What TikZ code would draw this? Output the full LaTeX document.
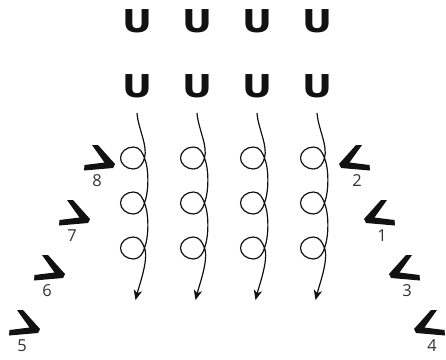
\documentclass[tikz,border=0pt]{standalone}
\usepackage{fontspec}
\usepackage{graphicx}
\setmainfont{Open Sans}
\newfontfamily\ufont{DejaVu Sans}
\usetikzlibrary{arrows.meta}
\definecolor{ink}{HTML}{111111}
\definecolor{numgray}{HTML}{333333}
\tikzset{
  ulet/.style={inner sep=0pt, anchor=base, text=ink, font=\ufont\bfseries\fontsize{31.5}{31.5}\selectfont},
  numlab/.style={inner sep=0pt, text=numgray, font=\fontsize{16.5}{16.5}\selectfont},
  spiral/.style={draw=ink, line width=1.2pt, -{Stealth[length=10pt,width=8.5pt,inset=3pt]}},
  chevshape/.pic={\fill[ink] (8,0) -- (14,0) -- (31,19) -- (29,23) -- (0,25.5) -- (0.5,20) -- (20.5,17.5) -- cycle;}
}
\begin{document}
\begin{tikzpicture}[x=1pt,y=-1pt]
\useasboundingbox (0,0) rectangle (446,359);
% U letters
\foreach \x [count=\i] in {137,197,257,317}{
  \node[ulet] (ua\i) at (\x,32) {\scalebox{1.17}[1]{U}};
  \node[ulet] (ub\i) at (\x,97) {\scalebox{1.17}[1]{U}};
}
% spirals
\foreach \x [count=\i] in {137,197,257,317}{
  \begin{scope}[shift={(\x,0)}]
    \coordinate (s\i) at (0,113);
    \coordinate (e\i) at (-1.5,300);
    \draw[spiral] (s\i) .. controls (1,128) and (11,146) .. (7.5,158)
      .. controls (6,163.5) and (2.5,169) .. (-3.5,169)
      .. controls (-10.6,169) and (-16.5,164) .. (-16.5,158)
      .. controls (-16.5,152) and (-10.6,147) .. (-3.5,147)
      .. controls (3,147) and (5.5,153) .. (7.5,158)
      .. controls (12,169) and (12,191) .. (7.5,203)
      .. controls (6,208.5) and (2.5,214) .. (-3.5,214)
      .. controls (-10.6,214) and (-16.5,209) .. (-16.5,203)
      .. controls (-16.5,197) and (-10.6,192) .. (-3.5,192)
      .. controls (3,192) and (5.5,198) .. (7.5,203)
      .. controls (12,214) and (12,236) .. (7.5,248)
      .. controls (6,253.5) and (2.5,259) .. (-3.5,259)
      .. controls (-10.6,259) and (-16.5,254) .. (-16.5,248)
      .. controls (-16.5,242) and (-10.6,237) .. (-3.5,237)
      .. controls (3,237) and (5.5,243) .. (7.5,248)
      .. controls (12,259) and (2,286) .. (e\i);
  \end{scope}
}
% left chevrons (pointing right)
\foreach \x/\y/\n in {84/145/8, 59/200/7, 34/255/6, 9/310/5}{
  \pic at (\x,\y) {chevshape};
  \node[numlab] (n\n) at (\x+13,\y+36) {\n};
}
% right chevrons (pointing left)
\foreach \x/\y/\n in {370/145/2, 395/200/1, 420/255/3, 445/310/4}{
  \pic[xscale=-1] at (\x,\y) {chevshape};
  \node[numlab] (n\n) at (\x-13,\y+36) {\n};
}
\end{tikzpicture}
\end{document}
